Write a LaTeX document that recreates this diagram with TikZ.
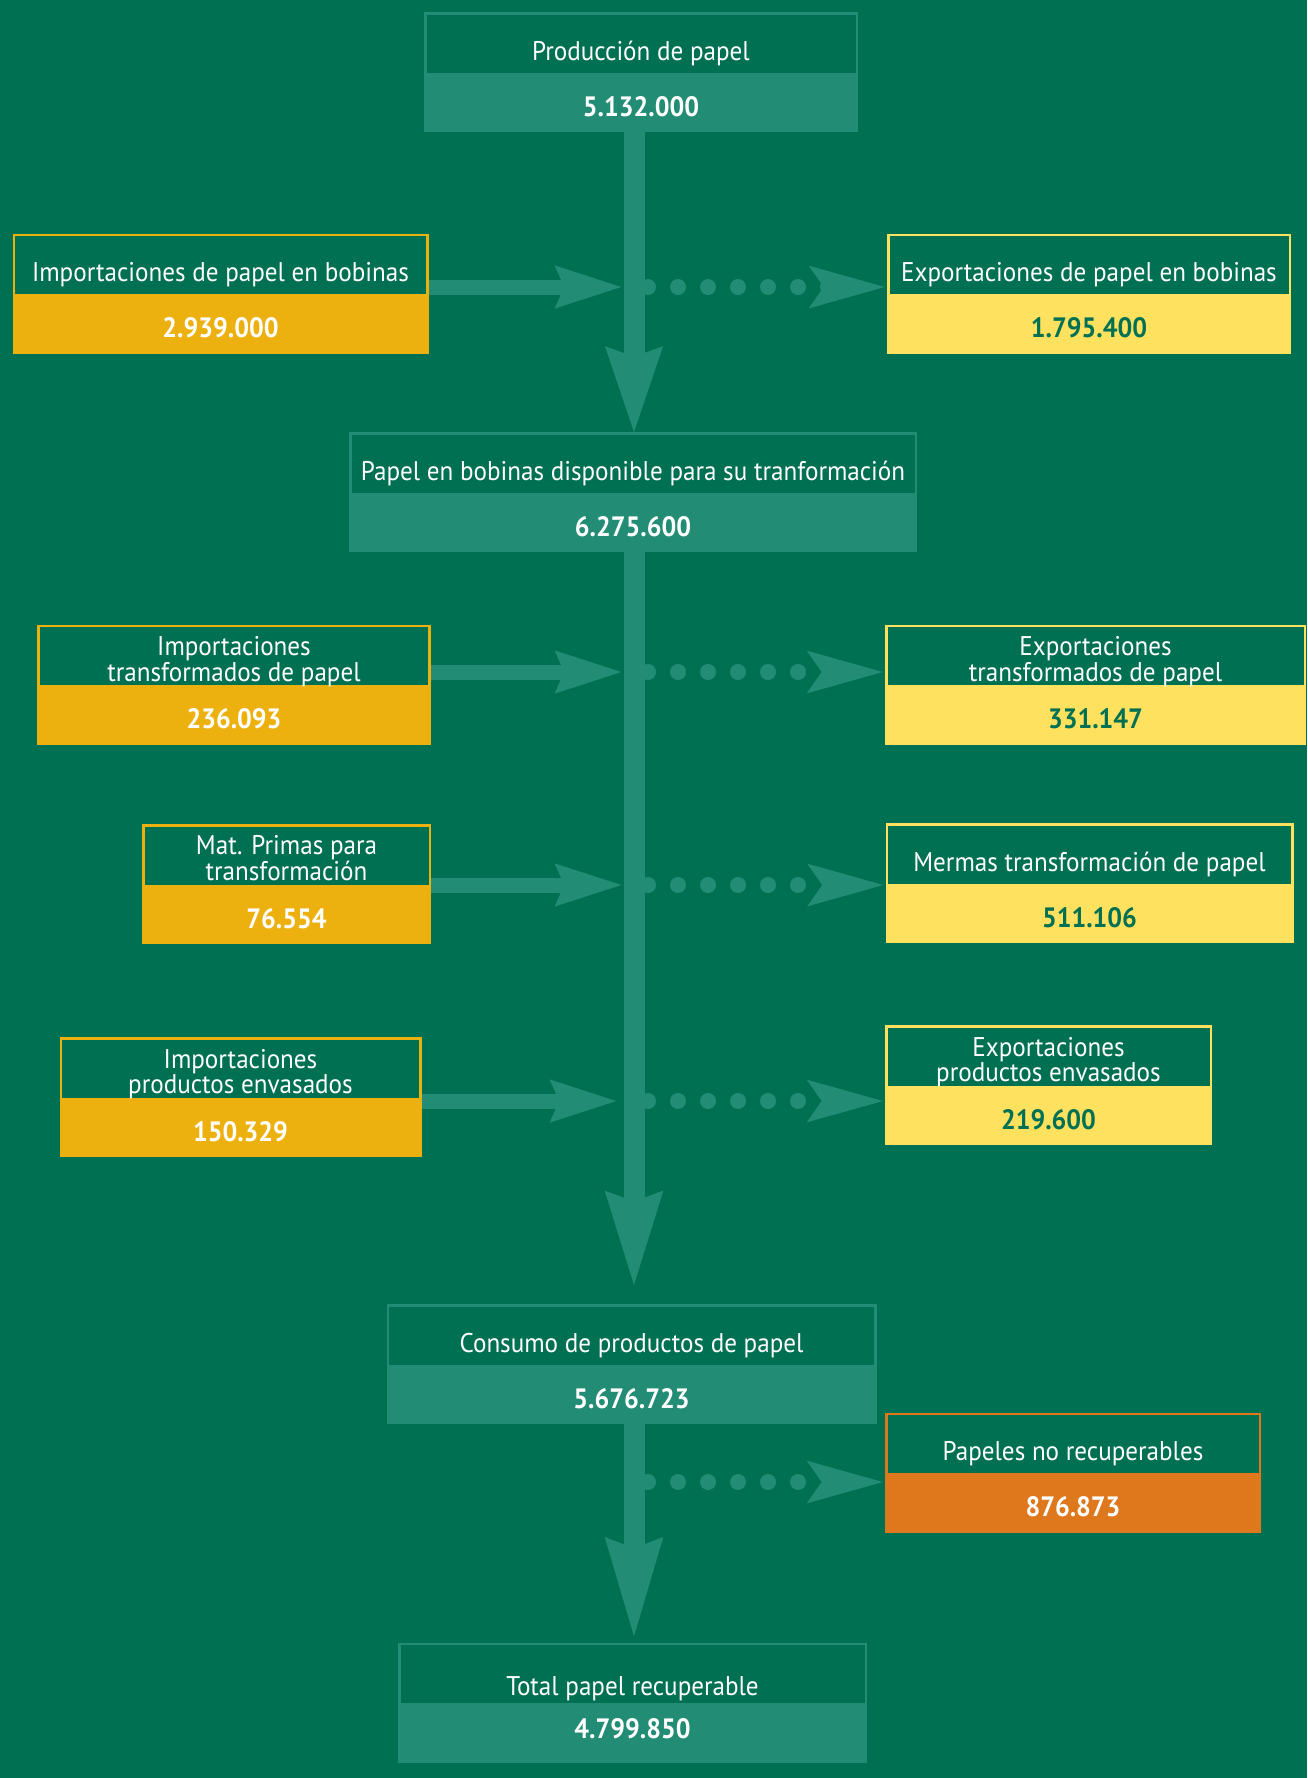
\documentclass[tikz,border=0pt]{standalone}
\usepackage{fontspec}
\setmainfont{PT Sans}[FakeStretch=0.93]
\usetikzlibrary{positioning,arrows.meta}

\definecolor{bggreen}{HTML}{007052}
\definecolor{flowgreen}{HTML}{238C74}
\definecolor{impgold}{HTML}{EDB10F}
\definecolor{expyellow}{HTML}{FFE160}
\definecolor{lossorange}{HTML}{DF781C}

\tikzset{
	titlebox/.style={draw, line width=2.5pt, fill=bggreen, text=white, inner sep=0pt,
		minimum height=60.5pt, font=\fontsize{27}{24}\selectfont, align=center,
		text height=33pt, text depth=0pt},
	twoline/.style={text height=50pt, text depth=0pt},
	valuebox/.style={inner sep=0pt, minimum height=57pt, text=white,
		font=\fontsize{28}{30}\selectfont\bfseries, text height=25pt, text depth=0pt},
	trunk/.style={color=flowgreen, line width=21pt, -{Stealth[length=#1, width=52pt, inset=7pt]}},
	inflow/.style={color=flowgreen, line width=15pt, shorten >=10.5pt,
		-{Stealth[length=66pt, width=39pt, inset=7pt]}},
	outflow/.style={color=flowgreen, line width=16pt, line cap=round,
		dash pattern=on 0pt off 30pt, dash phase=16pt,
		-{Stealth[length=75pt, width=39pt, inset=12pt]}}
}

\begin{document}
\begin{tikzpicture}[x=1pt, y=-1pt]
	\path[use as bounding box, fill=bggreen] (0,0) rectangle (1307,1778);

	% centre column
	\node[titlebox, draw=flowgreen, minimum width=431.5pt] (prodT) at (641,43.5) {Producción de papel};
	\node[valuebox, fill=flowgreen, minimum width=434pt, below=0pt of prodT] (prodV) {5.132.000};

	\node[titlebox, draw=flowgreen, minimum width=565.5pt] (dispT) at (633,463.5) {Papel en bobinas disponible para su tranformación};
	\node[valuebox, fill=flowgreen, minimum width=568pt, below=0pt of dispT] (dispV) {6.275.600};

	\node[titlebox, draw=flowgreen, minimum width=487.5pt] (consT) at (631.5,1335.5) {Consumo de productos de papel};
	\node[valuebox, fill=flowgreen, minimum width=490pt, below=0pt of consT] (consV) {5.676.723};

	\node[titlebox, draw=flowgreen, minimum width=466.5pt, text height=42pt] (totT) at (632.5,1674) {Total papel recuperable};
	\node[valuebox, fill=flowgreen, minimum width=469pt, text height=9pt, below=0pt of totT] (totV) {4.799.850};

	% imports
	\node[titlebox, draw=impgold, minimum width=413.5pt] (impBT) at (220.5,265) {Importaciones de papel en bobinas};
	\node[valuebox, fill=impgold, minimum width=416pt, below=0pt of impBT] (impBV) {2.939.000};

	\node[titlebox, twoline, draw=impgold, minimum width=391pt] (impTT) at (234,656) {Importaciones\\transformados de papel};
	\node[valuebox, fill=impgold, minimum width=393.5pt, below=0pt of impTT] (impTV) {236.093};

	\node[titlebox, twoline, draw=impgold, minimum width=286.5pt] (matT) at (286.5,855.5) {Mat. Primas para\\transformación};
	\node[valuebox, fill=impgold, minimum width=289pt, below=0pt of matT] (matV) {76.554};

	\node[titlebox, twoline, draw=impgold, minimum width=359.5pt] (impET) at (240.5,1068.5) {Importaciones\\productos envasados};
	\node[valuebox, fill=impgold, minimum width=362pt, below=0pt of impET] (impEV) {150.329};

	% exports and losses
	\node[titlebox, draw=expyellow, minimum width=401.5pt] (expBT) at (1089,265) {Exportaciones de papel en bobinas};
	\node[valuebox, fill=expyellow, text=bggreen, minimum width=404pt, below=0pt of expBT] (expBV) {1.795.400};

	\node[titlebox, twoline, draw=expyellow, minimum width=418.5pt] (expTT) at (1095.5,656) {Exportaciones\\transformados de papel};
	\node[valuebox, fill=expyellow, text=bggreen, minimum width=421pt, below=0pt of expTT] (expTV) {331.147};

	\node[titlebox, draw=expyellow, minimum width=405.5pt] (mermT) at (1089.5,854.5) {Mermas transformación de papel};
	\node[valuebox, fill=expyellow, text=bggreen, minimum width=408pt, below=0pt of mermT] (mermV) {511.106};

	\node[titlebox, twoline, draw=expyellow, minimum width=324.5pt] (expET) at (1048.5,1056.5) {Exportaciones\\productos envasados};
	\node[valuebox, fill=expyellow, text=bggreen, minimum width=327pt, below=0pt of expET] (expEV) {219.600};

	\node[titlebox, draw=lossorange, minimum width=373.5pt] (norecT) at (1073,1444) {Papeles no recuperables};
	\node[valuebox, fill=lossorange, minimum width=376pt, below=0pt of norecT] (norecV) {876.873};

	% junctions on the main flow
	\coordinate (t1) at (634,287);
	\coordinate (t2) at (634,672);
	\coordinate (t3) at (634,885);
	\coordinate (t4) at (634,1101);
	\coordinate (t5) at (634,1482);

	\draw[trunk=85pt, shorten >=-3pt] (prodV.south -| t1) -- (dispT.north -| t1);
	\draw[trunk=94pt, shorten >=15pt] (dispV.south -| t1) -- (consT.north -| t1);
	\draw[trunk=99pt, shorten >=2pt] (consV.south -| t1) -- (totT.north -| t1);

	\draw[inflow] (impBT.east |- t1) -- (t1);
	\draw[inflow] (impTT.east |- t2) -- (t2);
	\draw[inflow] (matT.east |- t3) -- (t3);
	\draw[inflow, shorten >=15.5pt] (impET.east |- t4) -- (t4);

	\draw[outflow] (t1) -- (expBT.west |- t1);
	\draw[outflow] (t2) -- (expTT.west |- t2);
	\draw[outflow] (t3) -- (mermT.west |- t3);
	\draw[outflow] (t4) -- (expET.west |- t4);
	\draw[outflow] (t5) -- (norecT.west |- t5);
\end{tikzpicture}
\end{document}
